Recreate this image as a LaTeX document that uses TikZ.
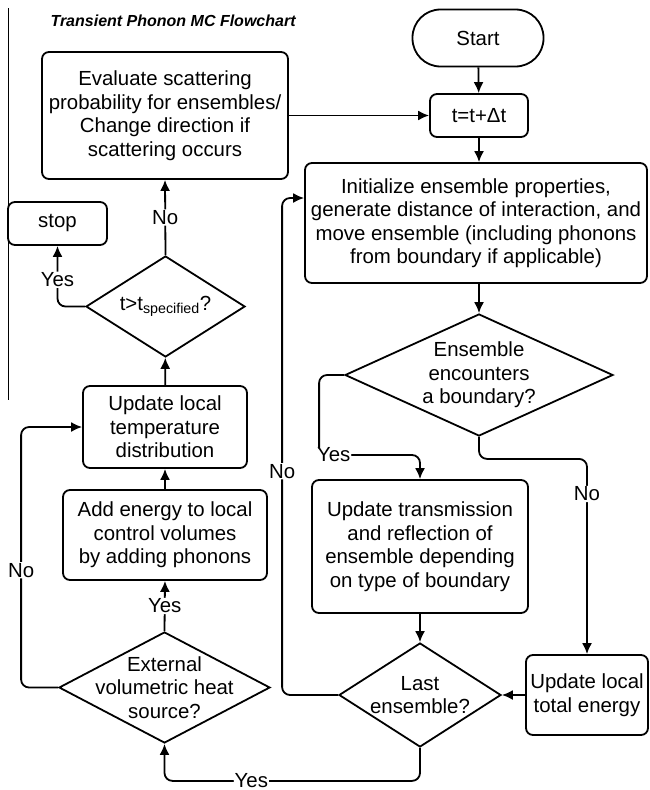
\documentclass[tikz,border=0pt]{standalone}
\usepackage{fontspec}
\setmainfont{Liberation Sans}
\usepackage{tikz}
\usetikzlibrary{shapes,arrows.meta,calc}

\tikzstyle{tsText} = [
    text=black,
    font=\fontsize{20.4}{23.5}\selectfont
]
\tikzstyle{tsBox} = [
    rectangle,
    tsText,
    align=center,
    rounded corners=7pt,
    draw=black,
    inner sep=0pt,
    line width=1.8pt]
\tikzstyle{tsDecision} = [
    diamond,
    draw=black,
    inner sep=0pt,
    line width=1.8pt]
\tikzstyle{tsArrow} = [
    draw=black,
    line width=1.8pt,
    rounded corners=8pt,
    -{Latex[length=11pt,width=10pt]}]
\tikzstyle{tsLabel} = [
    tsText,
    fill=white,
    inner sep=1pt]

\begin{document}
\begin{tikzpicture}[x=1pt, y=-1pt]

        \useasboundingbox (0,0) rectangle (649,790);

        % stray page edge
        \draw[line width=1pt] (8,8) -- (8,400);

        \node[anchor=west, font=\fontsize{16}{19}\selectfont\bfseries\itshape] (title) at (47,21) {Transient Phonon MC Flowchart};

        \node[tsBox, minimum width=131pt, minimum height=57pt, rounded corners=28pt] (start) at (478,38) {Start};
        \node[tsBox, minimum width=98pt, minimum height=43pt] (tstep) at (479,115.5) {t=t+Δt};
        \node[tsBox, minimum width=342pt, minimum height=120pt] (init) at (476,223) {Initialize ensemble properties,\\generate distance of interaction, and\\move ensemble (including phonons\\from boundary if applicable)};
        \node[tsDecision, minimum width=268pt, minimum height=122pt,
              label={[tsText, align=center]center:Ensemble\\encounters\\a boundary?}] (bound) at (479,375) {};
        \node[tsBox, minimum width=216pt, minimum height=133pt] (trans) at (420,546.5) {Update transmission\\and reflection of\\ensemble depending\\on type of boundary};
        \node[tsDecision, minimum width=162pt, minimum height=104pt,
              label={[tsText, align=center]center:Last\\ensemble?}] (last) at (420,695) {};
        \node[tsBox, minimum width=122pt, minimum height=80pt] (energy) at (587,695) {Update local\\total energy};

        \node[tsDecision, minimum width=211pt, minimum height=111pt,
              label={[tsText, align=center]center:External\\volumetric heat\\source?}] (source) at (164.5,687.5) {};
        \node[tsBox, minimum width=204pt, minimum height=90pt] (addE) at (165,535) {Add energy to local\\control volumes\\by adding phonons};
        \node[tsBox, minimum width=164pt, minimum height=82pt] (temp) at (165,427) {Update local\\temperature\\distribution};
        \node[tsDecision, minimum width=159pt, minimum height=101pt,
              label={[tsText]center:t>t\textsubscript{specified}?}] (tend) at (165.5,306.5) {};
        \node[tsBox, minimum width=99pt, minimum height=43pt] (stop) at (57.5,223.5) {stop};
        \node[tsBox, minimum width=246pt, minimum height=127pt] (eval) at (165,115.5) {Evaluate scattering\\probability for ensembles/\\Change direction if\\scattering occurs};

        % main loop
        \draw[tsArrow] (start) -- (tstep);
        \draw[tsArrow] (tstep.south) -- (tstep.south |- init.north);
        \draw[tsArrow] (bound.north |- init.south) -- (bound.north);
        \draw[tsArrow] (bound.west) -- ++(-25,0) -- ++(0,80) node[tsLabel, anchor=west, xshift=-4pt] {Yes} -| (trans.north);
        \draw[tsArrow] (bound.south) -- ++(0,22) -| (energy.north) node[tsLabel, pos=0.59] {No};
        \draw[tsArrow] (trans) -- (last);
        \draw[tsArrow] (energy.west) -- (last.east);
        \draw[tsArrow] (last.west) -- ++(-56,0) |- ([yshift=25pt]init.west) node[tsLabel, pos=0.225] {No};
        \draw[tsArrow] (last.south) -- ++(0,33) -| (source.south) node[tsLabel, pos=0.33] {Yes};

        % heat source and time check
        \draw[tsArrow] (source.north) -- (addE.south) node[tsLabel, midway] {Yes};
        \draw[tsArrow] (source.west) -- ++(-37,0) |- (temp.west) node[tsLabel, pos=0.225] {No};
        \draw[tsArrow] (addE) -- (temp);
        \draw[tsArrow] (temp) -- (tend);
        \draw[tsArrow] (tend.north) -- (eval.south) node[tsLabel, midway] {No};
        \draw[tsArrow] (tend.west) -| (stop.south) node[tsLabel, pos=0.72] {Yes};
        \draw[tsArrow] (eval.east) -- (tstep.west);

\end{tikzpicture}
\end{document}
